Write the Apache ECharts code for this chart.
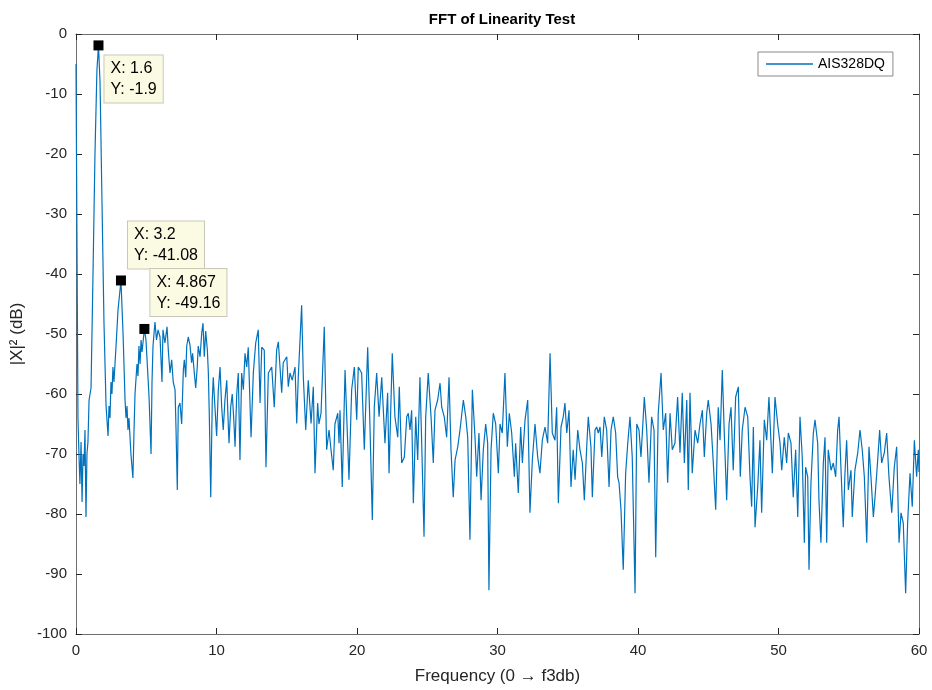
<!DOCTYPE html>
<html>
<head>
<meta charset="utf-8">
<script src="https://cdn.jsdelivr.net/npm/echarts@6/dist/echarts.min.js"></script>
<style>
  html, body { margin: 0; padding: 0; background: #ffffff; }
  #chart { width: 932px; height: 690px; }
</style>
</head>
<body>
<div id="chart"></div>
<script>
// Power spectrum of the AIS328DQ linearity test, [frequency, |X|^2 in dB]
const spec0_10 = [
  [0.00,-5],[0.07,-35],[0.14,-64],[0.21,-70],[0.28,-75],[0.36,-68],[0.43,-78],[0.50,-70],[0.57,-72],[0.64,-66],
  [0.71,-80.5],[0.78,-70],[0.85,-68],[0.93,-61],[1.00,-60],[1.07,-59],[1.21,-40],[1.35,-20],[1.49,-6],[1.60,-1.9],
  [1.71,-8],[1.85,-28],[1.99,-48],[2.14,-62],[2.28,-67],[2.35,-62],[2.42,-64],[2.49,-58],[2.56,-60],[2.63,-55.5],
  [2.70,-58],[2.85,-52],[2.99,-46],[3.20,-41.08],[3.35,-50],[3.49,-61],[3.56,-64],[3.63,-62],[3.70,-66],[3.77,-64],
  [3.84,-67],[3.91,-70],[4.05,-74],[4.13,-66],[4.20,-60],[4.34,-55],[4.41,-57],[4.48,-52],[4.56,-55],[4.63,-51],
  [4.70,-53],[4.867,-49.16],[4.98,-51],[5.05,-54],[5.20,-60.5],[5.34,-70],[5.41,-58],[5.48,-52],[5.62,-48],[5.73,-51],
  [5.84,-49.3],[5.98,-50.5],[6.12,-58],[6.19,-49.3],[6.33,-51.5],[6.48,-48.8],[6.57,-52.7],[6.69,-56.5],[6.81,-54.3],[6.92,-58],
  [7.05,-59.3],[7.12,-66],[7.21,-76],[7.28,-62.2],[7.40,-61.5],[7.52,-65],[7.64,-56],[7.71,-54.3],[7.81,-57.2],[7.88,-52],
  [7.99,-50.5],[8.11,-51.8],[8.23,-54.8],[8.30,-53.2],[8.42,-56.5],[8.52,-59],[8.63,-55.5],[8.70,-52],[8.83,-53.8],[8.95,-49.8],
  [9.04,-48.2],[9.13,-53.8],[9.23,-49.5],[9.35,-52.7],[9.42,-56.5],[9.49,-63.8],[9.59,-77.2],[9.70,-61],[9.77,-57.2],[9.89,-62.2]
];
const spec10_20 = [
  [10.01,-67],[10.13,-59.3],[10.25,-55.5],[10.37,-62.2],[10.48,-66],[10.60,-61],[10.73,-57.7],[10.80,-62.7],[10.89,-68.2],[11.01,-62.2],
  [11.12,-60],[11.22,-63.8],[11.32,-68.8],[11.44,-60],[11.55,-56.5],[11.67,-71],[11.79,-56.5],[11.91,-59.3],[12.03,-53.2],[12.15,-55.5],
  [12.26,-52.2],[12.46,-67.2],[12.62,-56.5],[12.79,-51.5],[12.97,-49.3],[13.10,-61.5],[13.22,-52.2],[13.40,-52.7],[13.52,-72.2],[13.69,-56.5],
  [13.93,-55.5],[14.11,-62.2],[14.28,-52.7],[14.40,-51.3],[14.52,-55.5],[14.64,-59.8],[14.75,-54.8],[15.00,-53.8],[15.11,-58.8],[15.23,-56.5],
  [15.39,-57.7],[15.59,-55.5],[15.71,-64.9],[15.82,-57.2],[16.06,-45.2],[16.18,-57.2],[16.35,-66],[16.53,-57.7],[16.73,-64.9],[16.89,-58.8],
  [17.01,-73.2],[17.20,-61.5],[17.29,-65],[17.44,-63.2],[17.67,-48.8],[17.84,-69.3],[18.01,-66],[18.15,-69.3],[18.31,-72.7],[18.43,-65],
  [18.63,-63.2],[18.72,-68.2],[18.79,-62.7],[18.95,-75.5],[19.15,-56],[19.27,-63.8],[19.43,-74.3],[19.62,-59.3],[19.81,-55.5],[19.98,-64.3]
];
const spec20_30 = [
  [20.09,-55.5],[20.33,-56.5],[20.52,-69.3],[20.76,-52.2],[20.92,-65],[21.09,-81],[21.23,-62.2],[21.40,-56.5],[21.57,-63.8],[21.76,-57.2],
  [21.99,-68.2],[22.18,-59.8],[22.28,-73.2],[22.51,-53.2],[22.70,-63.8],[22.90,-67.2],[23.01,-58.8],[23.18,-71.5],[23.37,-70.5],[23.54,-63.8],
  [23.65,-63.2],[23.77,-66],[23.89,-62.7],[24.01,-78.2],[24.18,-63.8],[24.32,-71],[24.48,-57.2],[24.60,-67.7],[24.77,-83.8],[24.89,-63.8],
  [25.07,-56.5],[25.27,-63.8],[25.43,-71.5],[25.55,-62.7],[25.74,-61],[25.91,-58.2],[26.03,-62.2],[26.21,-63.8],[26.38,-67.2],[26.55,-57.2],
  [26.69,-69.3],[26.85,-77.2],[26.98,-71],[27.17,-68.8],[27.33,-66],[27.57,-61],[27.74,-63.8],[27.88,-67.2],[28.04,-84.3],[28.21,-59.3],
  [28.40,-67.2],[28.52,-73.8],[28.68,-66.5],[28.83,-77.7],[28.99,-69.3],[29.16,-65],[29.30,-68.2],[29.39,-92.7],[29.54,-69.3],[29.70,-63.2],
  [29.87,-65]
];
const spec30_40 = [
  [30.06,-73.2],[30.18,-65],[30.34,-66.5],[30.53,-56.5],[30.70,-68.8],[30.84,-63.2],[31.01,-66.5],[31.20,-73.8],[31.29,-68.2],[31.48,-76.5],
  [31.65,-65.5],[31.77,-71.5],[31.96,-64.3],[32.15,-61],[32.31,-79.8],[32.48,-71],[32.67,-65],[32.86,-70.5],[33.02,-73.2],[33.19,-67.7],
  [33.38,-65.5],[33.57,-68.2],[33.74,-53.2],[33.90,-66.5],[34.09,-67.7],[34.21,-62.2],[34.33,-78.2],[34.52,-65.5],[34.68,-63.8],[34.80,-61.5],
  [34.93,-66.5],[35.09,-62.7],[35.23,-75.5],[35.39,-69.3],[35.52,-74.3],[35.71,-66],[35.87,-69.3],[36.04,-71.5],[36.18,-77.7],[36.35,-68.8],
  [36.46,-63.8],[36.65,-68.8],[36.75,-77.2],[36.94,-66],[37.06,-65.5],[37.17,-66.5],[37.30,-65.5],[37.42,-70.5],[37.60,-63.8],[37.77,-66],
  [37.94,-75.5],[38.08,-66],[38.24,-63.8],[38.41,-66.5],[38.55,-73.8],[38.65,-74.8],[38.79,-79.3],[38.95,-89.3],[39.12,-73.2],[39.27,-68.2],
  [39.43,-63.8],[39.59,-70.5],[39.79,-93.2],[39.91,-65]
];
const spec40_50 = [
  [40.07,-66],[40.21,-70.5],[40.31,-66.5],[40.45,-60.5],[40.62,-66],[40.78,-74.8],[40.97,-63.8],[41.14,-66],[41.26,-87.2],[41.44,-63.2],
  [41.64,-56.5],[41.80,-66],[41.97,-63.2],[42.11,-74.8],[42.28,-63.2],[42.44,-69.3],[42.63,-68.2],[42.82,-60.5],[42.99,-69.8],[43.15,-59.8],
  [43.30,-71.5],[43.47,-61],[43.58,-76],[43.70,-59.8],[43.86,-73.2],[44.06,-66],[44.25,-68.2],[44.41,-65],[44.58,-62.7],[44.72,-70.5],
  [44.89,-63.2],[45.00,-61],[45.20,-65],[45.36,-71.5],[45.53,-79.3],[45.71,-62.2],[45.84,-67.7],[46.00,-56],[46.14,-66.5],[46.31,-77.7],
  [46.48,-65],[46.62,-62.2],[46.78,-72.7],[46.95,-60.5],[47.14,-58.8],[47.28,-73.8],[47.42,-66],[47.62,-62.2],[47.81,-63.8],[47.97,-73.8],
  [48.09,-78.8],[48.21,-65.5],[48.33,-82.2],[48.52,-75.5],[48.68,-67.7],[48.80,-79.8],[48.99,-64.3],[49.16,-67.7],[49.32,-60.5],[49.47,-68.2],
  [49.56,-73.2],[49.75,-60.5],[49.94,-65]
];
const spec50_60 = [
  [50.11,-68.2],[50.23,-72.7],[50.41,-67.2],[50.58,-71.5],[50.70,-66.5],[50.89,-68.2],[51.05,-77.2],[51.22,-69.3],[51.37,-80.5],[51.53,-63.8],
  [51.69,-70.5],[51.84,-84.8],[51.93,-72.2],[52.08,-73.8],[52.17,-89.3],[52.31,-74.8],[52.48,-66.5],[52.60,-64.3],[52.79,-68.2],[52.88,-77.7],
  [53.02,-84.8],[53.19,-71.5],[53.31,-67.2],[53.43,-84.8],[53.54,-69.3],[53.74,-72.7],[53.90,-71.5],[54.07,-73.8],[54.21,-66],[54.31,-63.8],
  [54.45,-72.7],[54.61,-82.2],[54.73,-73.2],[54.85,-67.7],[54.97,-76],[55.16,-72.7],[55.25,-80.5],[55.44,-72.7],[55.64,-69.8],[55.80,-66],
  [55.96,-69.3],[56.11,-73.8],[56.28,-84.8],[56.44,-68.8],[56.58,-73.8],[56.75,-80.5],[56.87,-77.2],[57.06,-71],[57.20,-66],[57.34,-71.5],
  [57.53,-69.8],[57.70,-66.5],[57.86,-73.8],[58.06,-79.8],[58.24,-72.2],[58.41,-68.8],[58.58,-84.8],[58.72,-79.8],[58.88,-81.5],[59.05,-93.2],
  [59.19,-81.5],[59.36,-73.2],[59.52,-78.8],[59.67,-67.7],[59.83,-73.8],[59.95,-69.3],[60.00,-73]
];

// Data tips on the fundamental and its first two harmonics
const tipFreq = [1.6, 3.2, 4.867];
const tipPower = [-1.9, -41.08, -49.16];

const seriesName = 'AIS328DQ';

const spectrum = [].concat(spec0_10, spec10_20, spec20_30, spec30_40, spec40_50, spec50_60);

const FONT = '"Liberation Sans", Arial, Helvetica, sans-serif';
const TEXT = '#262626';
const FRAME = '#6e6e6e';

// label box offsets relative to each tip marker
const tipLabelPos = [[11, 15], [12, -54], [11, -55]];

function frameAxis(extra) {
  return Object.assign({
    type: 'value',
    axisLine: { show: true, onZero: false, lineStyle: { color: FRAME, width: 1 } },
    axisTick: { show: true, inside: true, length: 6, lineStyle: { color: TEXT } },
    splitLine: { show: false },
    axisLabel: { show: false }
  }, extra);
}

const chart = echarts.init(document.getElementById('chart'), null, { renderer: 'canvas' });

chart.setOption({
  animation: false,
  backgroundColor: '#ffffff',
  textStyle: { fontFamily: FONT },
  title: {
    text: 'FFT of Linearity Test',
    left: 497,
    top: 7,
    textAlign: 'center',
    textStyle: { fontFamily: FONT, fontSize: 15, fontWeight: 'bold', color: '#000' }
  },
  legend: {
    data: [{ name: seriesName, icon: 'rect' }],
    left: 758,
    top: 52,
    padding: [5, 8],
    itemWidth: 47,
    itemHeight: 1.5,
    itemGap: 0,
    backgroundColor: '#ffffff',
    borderColor: '#8a8a8a',
    borderWidth: 1,
    borderRadius: 0,
    textStyle: { fontFamily: FONT, fontSize: 14, color: '#000' }
  },
  grid: { left: 76, top: 34, width: 843, height: 600, containLabel: false },
  xAxis: [
    frameAxis({
      position: 'bottom', min: 0, max: 60, interval: 10,
      axisLabel: { show: true, margin: 9, fontSize: 15, color: TEXT, fontFamily: FONT },
      name: 'Frequency (0 \u2192 f3db)',
      nameLocation: 'middle',
      nameGap: 34,
      nameTextStyle: { fontFamily: FONT, fontSize: 17, color: TEXT }
    }),
    frameAxis({ position: 'top', min: 0, max: 60, interval: 10 })
  ],
  yAxis: [
    frameAxis({
      position: 'left', min: -100, max: 0, interval: 10,
      axisLabel: { show: true, margin: 9, fontSize: 15, color: TEXT, fontFamily: FONT },
      name: '|X|\u00b2 (dB)',
      nameLocation: 'middle',
      nameGap: 42,
      nameRotate: 90,
      nameTextStyle: { fontFamily: FONT, fontSize: 17, color: TEXT }
    }),
    frameAxis({ position: 'right', min: -100, max: 0, interval: 10 })
  ],
  series: [
    {
      name: seriesName,
      type: 'line',
      xAxisIndex: 0,
      yAxisIndex: 0,
      data: spectrum,
      showSymbol: false,
      symbol: 'none',
      lineStyle: { color: '#0072BD', width: 1.2 },
      itemStyle: { color: '#0072BD' },
      z: 2
    },
    {
      name: 'tips',
      type: 'scatter',
      xAxisIndex: 0,
      yAxisIndex: 0,
      symbol: 'rect',
      symbolSize: 10,
      itemStyle: { color: '#000000', opacity: 1 },
      z: 5,
      data: tipFreq.map((f, i) => ({
        value: [f, tipPower[i]],
        label: { position: tipLabelPos[i] }
      })),
      label: {
        show: true,
        align: 'left',
        verticalAlign: 'top',
        formatter: p => 'X: ' + p.value[0] + '\nY: ' + p.value[1],
        fontFamily: FONT,
        fontSize: 16,
        lineHeight: 21,
        color: '#000',
        backgroundColor: '#fbfbe3',
        borderColor: '#c8c8b8',
        borderWidth: 1,
        padding: [3, 6, 2, 6]
      }
    }
  ]
});
</script>
</body>
</html>
